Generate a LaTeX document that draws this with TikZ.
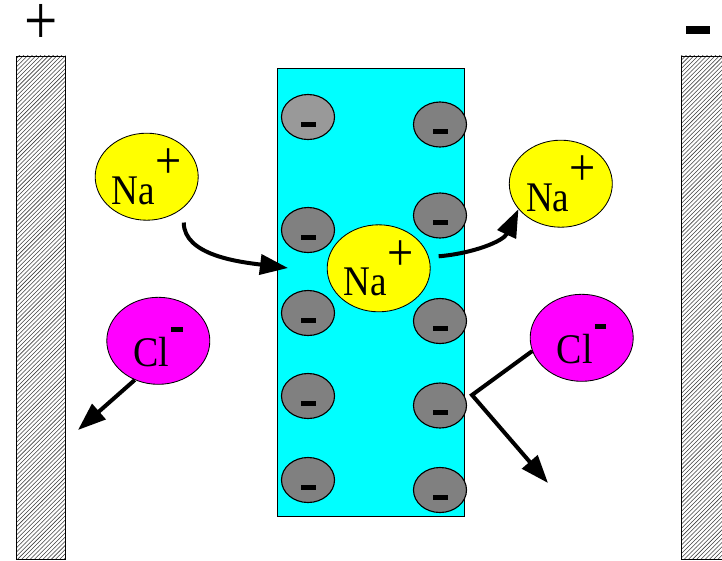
\documentclass[tikz,border=0pt]{standalone}
\usepackage{fontspec}
\setmainfont{Liberation Serif}
\usetikzlibrary{arrows.meta,shapes.geometric,patterns,calc}
\definecolor{naclr}{RGB}{255,255,0}
\definecolor{clclr}{RGB}{255,0,255}
\definecolor{memclr}{RGB}{0,255,255}
\definecolor{fixclr}{RGB}{128,128,128}
\definecolor{fixlight}{RGB}{153,153,153}
\tikzset{
  ion/.style={ellipse,draw=black,line width=0.6pt,minimum width=2.575cm,
              minimum height=2.175cm,inner sep=0pt,font=\fontsize{30}{30}\selectfont},
  naion/.style={ion,fill=naclr},
  clion/.style={ion,fill=clclr,text height=1.3cm,text depth=0pt},
  fixq/.style={ellipse,draw=black,line width=0.8pt,fill=fixclr,
               minimum width=1.325cm,minimum height=1.125cm,inner sep=0pt},
  electrode/.style={rectangle,draw=black,line width=0.6pt,pattern=north east lines,
                    pattern color=black!75,minimum width=1.225cm,
                    minimum height=12.575cm,inner sep=0pt},
  membrane/.style={rectangle,draw=black,line width=0.6pt,fill=memclr,
                   minimum width=4.675cm,minimum height=11.2cm,inner sep=0pt},
  flow/.style={-{Triangle[length=0.7cm,width=0.5cm]},line width=0.1cm},
}
\newcommand{\naplus}{\scalebox{0.88}[1]{Na}\raisebox{0.6em}{\scalebox{1.1}[1.25]{+}}}
\newcommand{\clminus}{\scalebox{0.9}[1]{Cl}\hspace{0.05cm}\raisebox{0.88cm}{\rule{0.29cm}{0.125cm}}}

\begin{document}
\begin{tikzpicture}[x=0.025cm,y=-0.025cm]
\useasboundingbox (0,0) rectangle (722,560);
\clip (0,0) rectangle (722,560);

% Electrodes
\node[electrode] (anode)   at (41,307.5)  {};
\node[electrode] (cathode) at (705.5,307.5) {};
\node[font=\fontsize{42}{42}\selectfont,inner sep=0pt] (plus) at (41,24) {\scalebox{1}[1.2]{+}};
\node[inner sep=0pt] (minus) at (698,30) {\rule{0.6cm}{0.2cm}};

% Membrane with fixed charges
\node[membrane] (mem) at (370.5,292) {};
\foreach \n/\x/\y/\c in {f1/308/117/fixlight,f2/308/230/fixclr,f3/308/313/fixclr,
                         f4/308/396/fixclr,f5/308/480/fixclr,
                         g1/440/124.5/fixclr,g2/440/215.5/fixclr,g3/440/321/fixclr,
                         g4/440/405.5/fixclr,g5/440/490/fixclr} {
  \node[fixq,fill=\c] (\n) at (\x,\y) {};
  \fill ($(\n)+(-7.5,4.5)$) rectangle ++(15,5);
}

% Ions
\node[naion] (na1) at (146.7,176.7) {\naplus};
\node[naion] (na2) at (378.7,268.3) {\naplus};
\node[naion] (na3) at (560.8,183.7) {\naplus};
\node[clion] (cl1) at (158.3,340.8) {\clminus};
\node[clion] (cl2) at (581.7,337.8) {\clminus};

% Free ends
\coordinate (in1)  at (288,268);
\coordinate (out1) at (78,430);
\coordinate (kink) at (472,395);
\coordinate (out2) at (548,483);

% Movements
\draw[flow] ([shift={(7,10)}]na1.-50) .. controls +(0,33) and +(-48,-6) .. (in1);
\draw[flow] ([shift={(8,-12)}]na2.east) .. controls +(35,-3) and +(-15,32) .. (na3.211);
\draw[flow] (cl1.239) -- (out1);
\draw[flow] (cl2.195) -- (kink) -- (out2);

\end{tikzpicture}
\end{document}
